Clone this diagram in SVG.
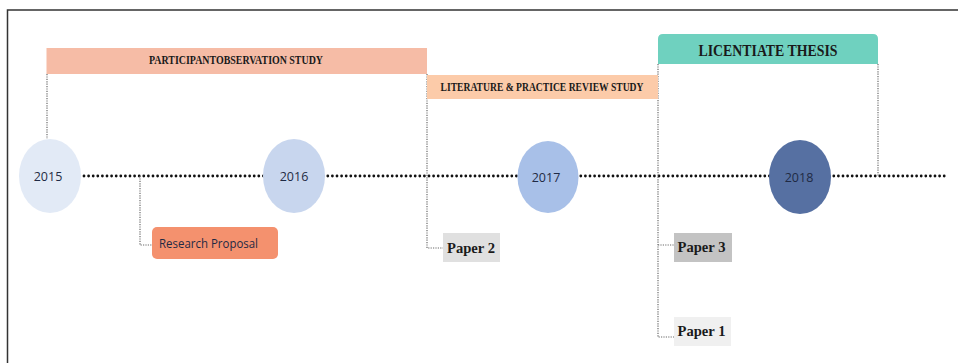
<svg xmlns="http://www.w3.org/2000/svg" width="958" height="363" viewBox="0 0 958 363">
<style>
.serif{font-family:"Liberation Serif","Times New Roman",serif;font-weight:bold;fill:#1a1a1a}
.sans{font-family:"Open Sans","Liberation Sans",Arial,sans-serif;fill:#1f2a44}
.thin{fill:none;stroke:#6a6a6a;stroke-width:1.2;stroke-dasharray:1.2 1.2}
.dots{fill:none;stroke:#111;stroke-width:2.8;stroke-linecap:round;stroke-dasharray:0 4.6}
</style>
<rect x="0" y="0" width="958" height="363" fill="#fff"/>
<path d="M7.5 363 V10 H958" fill="none" stroke="#333" stroke-width="1.5"/>
<g id="connectors">
<line class="dots" x1="84" y1="176" x2="947" y2="176"/>
<path class="thin" d="M47 74 V139"/>
<path class="thin" d="M427 74 V248 H443"/>
<path class="thin" d="M658 64 V337 H674 M658 245 H674"/>
<path class="thin" d="M878 64 V176"/>
<path class="thin" d="M140 176 V245 H152"/>
</g>
<g id="participant-observation">
<rect x="46.5" y="48" width="380.5" height="26" fill="#f6bca6"/>
<text class="serif" x="236" y="64" font-size="12.5" text-anchor="middle" textLength="174" lengthAdjust="spacingAndGlyphs">PARTICIPANTOBSERVATION STUDY</text>
</g>
<g id="literature-review">
<rect x="427" y="75" width="231" height="24" fill="#fccba9"/>
<text class="serif" x="542" y="90.5" font-size="12.5" text-anchor="middle" textLength="203" lengthAdjust="spacingAndGlyphs">LITERATURE &amp; PRACTICE REVIEW STUDY</text>
</g>
<g id="licentiate-thesis">
<path d="M658 64 V39 Q658 34 663 34 H873 Q878 34 878 39 V64 Z" fill="#6fd1bf"/>
<text class="serif" x="768" y="56" font-size="16.5" text-anchor="middle" textLength="139" lengthAdjust="spacingAndGlyphs">LICENTIATE THESIS</text>
</g>
<g id="y2015">
<ellipse cx="50" cy="176" rx="31" ry="37" fill="#e2eaf6"/>
<text class="sans" x="48" y="180.5" font-size="12.5" text-anchor="middle">2015</text>
</g>
<g id="y2016">
<ellipse cx="294" cy="176" rx="31" ry="37" fill="#c8d6ee"/>
<text class="sans" x="294" y="180.5" font-size="12.5" text-anchor="middle">2016</text>
</g>
<g id="y2017">
<ellipse cx="548" cy="177" rx="30.5" ry="36" fill="#a8c0e8"/>
<text class="sans" x="546" y="181.5" font-size="12.5" text-anchor="middle">2017</text>
</g>
<g id="y2018">
<ellipse cx="800" cy="177" rx="31" ry="37" fill="#5670a2"/>
<text class="sans" x="799" y="181.5" font-size="12.5" text-anchor="middle">2018</text>
</g>
<g id="research-proposal">
<rect x="152" y="227" width="126" height="32" rx="5" fill="#f4916e"/>
<text class="sans" x="159" y="248" font-size="12.5" textLength="99" lengthAdjust="spacingAndGlyphs">Research Proposal</text>
</g>
<g id="paper2">
<rect x="443" y="233" width="57" height="29" fill="#e0e0e0"/>
<text class="serif" x="447" y="252.5" font-size="14.5" textLength="48" lengthAdjust="spacingAndGlyphs">Paper 2</text>
</g>
<g id="paper3">
<rect x="674" y="233" width="58" height="29" fill="#c3c3c3"/>
<text class="serif" x="677.5" y="251.5" font-size="14.5" textLength="48" lengthAdjust="spacingAndGlyphs">Paper 3</text>
</g>
<g id="paper1">
<rect x="674" y="317" width="57" height="29" fill="#f0f0f0"/>
<text class="serif" x="677.5" y="336" font-size="14.5" textLength="48" lengthAdjust="spacingAndGlyphs">Paper 1</text>
</g>
</svg>
